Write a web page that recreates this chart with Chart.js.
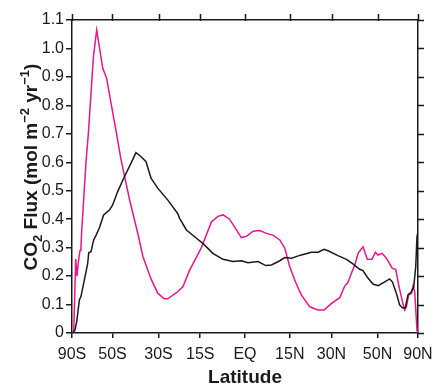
<!DOCTYPE html>
<html>
<head>
<meta charset="utf-8">
<script src="https://cdn.jsdelivr.net/npm/chart.js@4"></script>
<style>
  html, body { margin: 0; padding: 0; background: #fff; }
  #wrap { width: 435px; height: 387px; }
</style>
</head>
<body>
<div id="wrap"><canvas id="graficoFluxo" width="435" height="387"></canvas></div>
<script>
// latitude ticks (x axis is sine of latitude)
const tickLats = [-90, -50, -30, -15, 0, 15, 30, 50, 90];
const tickLabels = ["90S", "50S", "30S", "15S", "EQ", "15N", "30N", "50N", "90N"];
const tickFluxo = [0, 0.1, 0.2, 0.3, 0.4, 0.5, 0.6, 0.7, 0.8, 0.9, 1.0, 1.1];

// magenta curve
const rosaLat = [-82, -78.1, -76.2, -74.4, -72.5, -71.5, -70.7, -66.8, -64.9, -61.2, -59.0, -55.3, -53.1, -50.8,
  -47.7, -45.8, -41.9, -38.0, -36.2, -32.9, -30.3, -27.8, -26.5, -22.9, -21.0, -18.7, -14.6, -11.2, -9.0, -7.3,
  -5.1, -1.2, 0.5, 2.7, 4.9, 7.1, 9.3, 11.6, 13.3, 15.0, 16.7, 18.2, 19.0, 22.0, 25.0, 27.2, 30.0, 33.2, 35.2,
  36.5, 38.2, 39.4, 40.8, 43.0, 45.0, 47.2, 48.9, 50.3, 52.4, 54.8, 58.4, 60.6, 62.9, 65.9, 67.4, 68.9, 71.1,
  74.1, 76.2, 78.8, 83.8, 86.5];
const rosaFluxo = [0, 0.26, 0.20, 0.25, 0.29, 0.30, 0.36, 0.60, 0.70, 0.97, 1.065, 0.93, 0.895, 0.81,
  0.69, 0.61, 0.47, 0.34, 0.27, 0.19, 0.14, 0.12, 0.12, 0.145, 0.163, 0.22, 0.30, 0.39, 0.41, 0.415,
  0.40, 0.335, 0.34, 0.358, 0.36, 0.35, 0.344, 0.327, 0.298, 0.233, 0.186, 0.151, 0.134, 0.092, 0.081, 0.081, 0.104, 0.124, 0.165,
  0.177, 0.215, 0.239, 0.28, 0.303, 0.259, 0.259, 0.284, 0.274, 0.28, 0.263, 0.227, 0.224, 0.163, 0.104, 0.081, 0.092, 0.134,
  0.139, 0.165, 0.145, 0.01, 0];

// black curve
const pretoLat = [-84.7, -79.4, -76.6, -73.2, -71.5, -68.8, -66.8, -65.4, -64.6, -62.9, -61.0, -59.4, -57.3, -54.8,
  -51.6, -49.9, -47.4, -44.2, -41.2, -39.1, -37.2, -34.9, -32.9, -30.3, -26.5, -22.9, -22.2, -19.8, -16.3, -14.1,
  -10.7, -7.3, -4.0, -1.2, 1.0, 4.3, 6.9, 8.8, 11.6, 13.3, 15.6, 18.2, 19.0, 22.6, 25.0, 27.2, 28.7, 32.5, 35.9,
  38.6, 41.5, 43.0, 45.0, 47.7, 50.3, 53.9, 56.7, 58.4, 61.1, 63.4, 65.9, 68.0, 70.4, 74.1, 77.2, 80.7, 83.8, 86.5];
const pretoFluxo = [0, 0.01, 0.04, 0.116, 0.128, 0.175, 0.215, 0.245, 0.282, 0.286, 0.327, 0.344, 0.37, 0.415,
  0.432, 0.45, 0.497, 0.549, 0.597, 0.634, 0.622, 0.602, 0.544, 0.509, 0.467, 0.42, 0.403, 0.362, 0.333, 0.315,
  0.28, 0.259, 0.251, 0.254, 0.247, 0.251, 0.237, 0.239, 0.254, 0.265, 0.263, 0.272, 0.274, 0.284, 0.284, 0.294, 0.289, 0.272, 0.259,
  0.243, 0.224, 0.219, 0.196, 0.172, 0.166, 0.18, 0.19, 0.18, 0.139, 0.098, 0.087, 0.09, 0.134, 0.145, 0.161, 0.233, 0.339, 0.35];

const seno = lat => Math.sin(lat * Math.PI / 180);
const montaPontos = (lats, valores) => lats.map((l, i) => ({ x: seno(l), y: valores[i] }));

Chart.defaults.font.family = "'Liberation Sans', Arial, sans-serif";
Chart.defaults.color = "#1a1a1a";

const corEixo = "#1a1a1a";

function ticksLatitude(scale) {
  scale.ticks = tickLats.map(l => ({ value: seno(l) }));
}

// tick marks on top and right frame
const ticksMoldura = {
  id: "ticksMoldura",
  afterDraw(chart) {
    const ctx = chart.ctx;
    const area = chart.chartArea;
    const sx = chart.scales.x;
    const sy = chart.scales.y;
    ctx.save();
    ctx.strokeStyle = corEixo;
    ctx.lineWidth = 1.5;
    ctx.beginPath();
    tickLats.forEach(l => {
      const px = Math.round(sx.getPixelForValue(seno(l))) + 0.5;
      ctx.moveTo(px, area.top + 1);
      ctx.lineTo(px, area.top - 6);
    });
    tickFluxo.forEach(v => {
      const py = Math.round(sy.getPixelForValue(v)) + 0.5;
      ctx.moveTo(area.right - 1, py);
      ctx.lineTo(area.right + 6, py);
    });
    ctx.stroke();
    ctx.restore();
  }
};

// y title with subscript / superscripts
const tituloY = {
  id: "tituloY",
  afterDraw(chart) {
    const ctx = chart.ctx;
    const partes = [
      ["CO", 0], ["2", 1], [" Flux (mol m", 0], ["\u22122", -1], [" yr", 0], ["\u22121", -1], [")", 0]
    ];
    const grande = "bold 19px 'Liberation Sans', Arial, sans-serif";
    const pequeno = "bold 13px 'Liberation Sans', Arial, sans-serif";
    let total = 0;
    partes.forEach(p => {
      ctx.font = p[1] === 0 ? grande : pequeno;
      total += ctx.measureText(p[0]).width;
    });
    ctx.save();
    ctx.translate(37, 167);
    ctx.rotate(-Math.PI / 2);
    ctx.fillStyle = corEixo;
    ctx.textBaseline = "alphabetic";
    let x = -total / 2;
    partes.forEach(p => {
      ctx.font = p[1] === 0 ? grande : pequeno;
      const dy = p[1] === 1 ? 5 : (p[1] === -1 ? -8 : 0);
      ctx.fillText(p[0], x, dy);
      x += ctx.measureText(p[0]).width;
    });
    ctx.restore();
  }
};

const grafico = new Chart(document.querySelector("#graficoFluxo"), {
  type: "line",
  data: {
    datasets: [
      {
        label: "preto",
        data: montaPontos(pretoLat, pretoFluxo),
        borderColor: "#1a1a1a",
        borderWidth: 1.5,
        pointRadius: 0,
        tension: 0
      },
      {
        label: "rosa",
        data: montaPontos(rosaLat, rosaFluxo),
        borderColor: "#e8168c",
        borderWidth: 1.5,
        pointRadius: 0,
        tension: 0
      }
    ]
  },
  options: {
    responsive: false,
    animation: false,
    events: [],
    layout: { padding: 0 },
    plugins: { legend: { display: false }, tooltip: { enabled: false } },
    scales: {
      x: {
        type: "linear",
        position: "bottom",
        min: -1,
        max: 1,
        afterBuildTicks: ticksLatitude,
        afterFit: s => { s.height = 54; },
        grid: { drawOnChartArea: false, drawTicks: true, tickLength: 5, color: corEixo, lineWidth: 1.5 },
        border: { display: true, color: corEixo, width: 1.5 },
        ticks: {
          autoSkip: false,
          maxRotation: 0,
          padding: 1,
          font: { size: 16, lineHeight: 1.9 },
          color: corEixo,
          callback: (v, i) => tickLabels[i]
        },
        title: {
          display: true,
          text: "Latitude",
          font: { size: 19, weight: "bold", lineHeight: 1 },
          color: corEixo,
          padding: { top: 0, bottom: 0 }
        }
      },
      x2: {
        type: "linear",
        position: "top",
        min: -1,
        max: 1,
        afterFit: s => { s.height = 20; },
        grid: { display: false },
        border: { display: true, color: corEixo, width: 1.5 },
        ticks: { display: false }
      },
      y: {
        type: "linear",
        position: "left",
        min: 0,
        max: 1.1,
        afterFit: s => { s.width = 72; },
        grid: { drawOnChartArea: false, drawTicks: true, tickLength: 6, color: corEixo, lineWidth: 1.5 },
        border: { display: true, color: corEixo, width: 1.5 },
        ticks: {
          stepSize: 0.1,
          padding: 2,
          font: { size: 16 },
          color: corEixo,
          callback: v => (Math.abs(v) < 1e-9 ? "0" : v.toFixed(1))
        }
      },
      y2: {
        type: "linear",
        position: "right",
        min: 0,
        max: 1.1,
        afterFit: s => { s.width = 17; },
        grid: { display: false },
        border: { display: true, color: corEixo, width: 1.5 },
        ticks: { display: false }
      }
    }
  },
  plugins: [ticksMoldura, tituloY]
});
</script>
</body>
</html>
